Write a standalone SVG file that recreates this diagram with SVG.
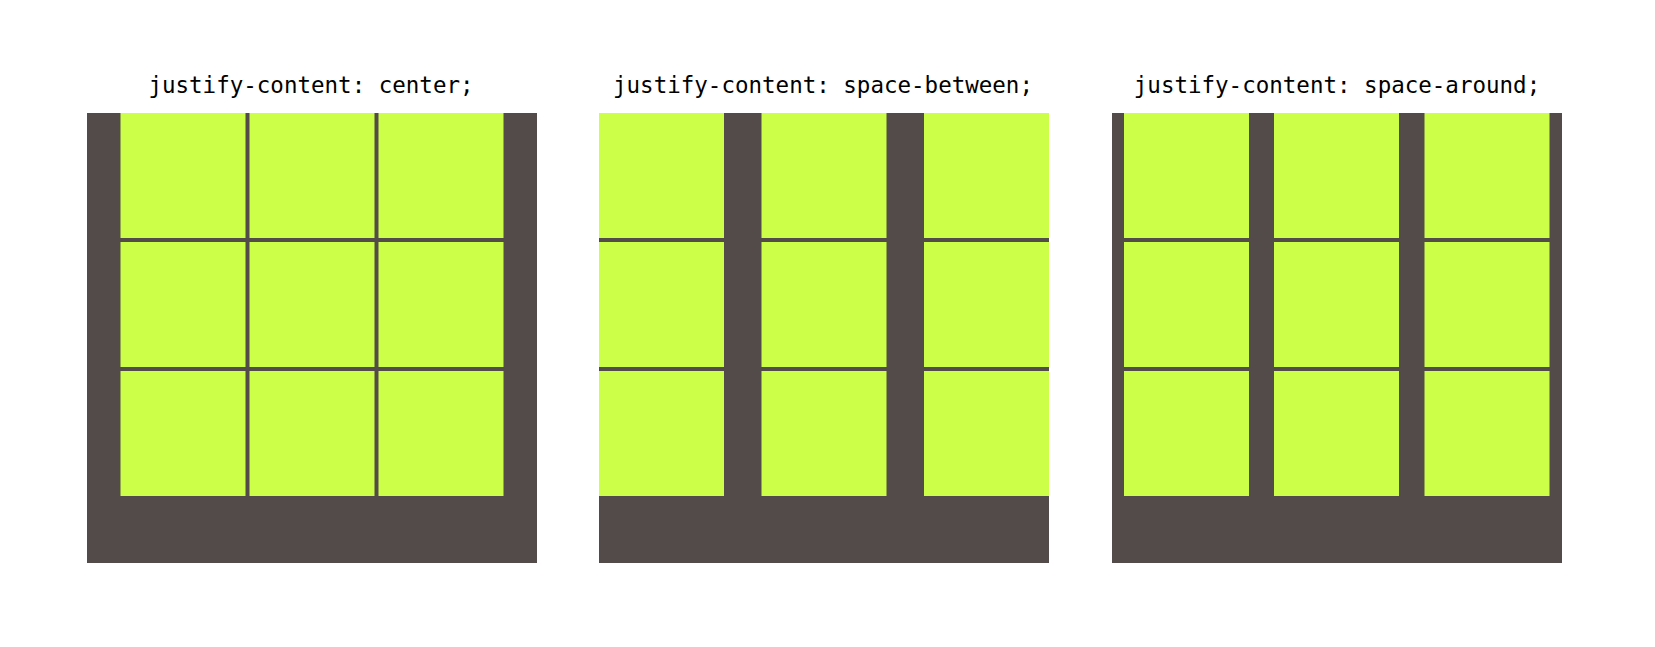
<svg xmlns="http://www.w3.org/2000/svg" width="1655" height="647" viewBox="0 0 1655 647">
<style>
.bg{fill:#534a4a}
.cell{fill:#ccff47}
.title{font-family:"DejaVu Sans Mono","Liberation Mono",monospace;font-size:22.5px;fill:#000;text-anchor:middle}
</style>
<defs>
<g id="col">
<rect class="cell" x="0" y="0" width="125" height="125"/>
<rect class="cell" x="0" y="129" width="125" height="125"/>
<rect class="cell" x="0" y="258" width="125" height="125"/>
</g>
</defs>
<rect width="1655" height="647" fill="#fff"/>
<g id="panel-center">
<text class="title" x="311" y="93">justify-content: center;</text>
<rect class="bg" x="87" y="113" width="450" height="450"/>
<use href="#col" x="120.5" y="113"/>
<use href="#col" x="249.5" y="113"/>
<use href="#col" x="378.5" y="113"/>
</g>
<g id="panel-space-between">
<text class="title" x="823" y="93">justify-content: space-between;</text>
<rect class="bg" x="599" y="113" width="450" height="450"/>
<use href="#col" x="599" y="113"/>
<use href="#col" x="761.5" y="113"/>
<use href="#col" x="924" y="113"/>
</g>
<g id="panel-space-around">
<text class="title" x="1337" y="93">justify-content: space-around;</text>
<rect class="bg" x="1112" y="113" width="450" height="450"/>
<use href="#col" x="1124" y="113"/>
<use href="#col" x="1274" y="113"/>
<use href="#col" x="1424.5" y="113"/>
</g>
</svg>
